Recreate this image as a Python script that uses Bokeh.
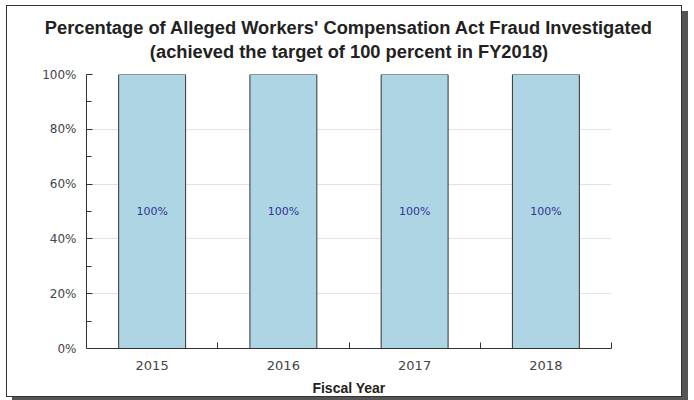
from bokeh.plotting import figure
from bokeh.models import (Range1d, FixedTicker, PrintfTickFormatter, Title,
                          ColumnDataSource)
from bokeh.embed import file_html
from bokeh.resources import INLINE

years = ["2015", "2016", "2017", "2018"]
values = [100, 100, 100, 100]
bar_labels = ["100%", "100%", "100%", "100%"]
y_ticks = [0, 20, 40, 60, 80, 100]
title_line1 = "Percentage of Alleged Workers' Compensation Act Fraud Investigated"
title_line2 = "(achieved the target of 100 percent in FY2018)"
x_label = "Fiscal Year"

pos = [i + 0.5 for i in range(len(years))]
src = ColumnDataSource(dict(x=pos, top=values, label=bar_labels,
                            mid=[v / 2 for v in values]))

p = figure(width=676, height=392, output_backend="svg", toolbar_location=None,
           x_range=Range1d(0, len(years)), y_range=Range1d(0, 100),
           min_border_left=79, min_border_right=72, min_border_top=68,
           min_border_bottom=50)
p.styles = {"border": "1px solid #333", "box-shadow": "6px 6px 0 #555",
            "margin-left": "6px", "margin-top": "5px"}
p.outline_line_color = None
p.background_fill_color = "white"
p.border_fill_color = "white"

p.vbar(x="x", top="top", bottom=0, width=0.51, source=src,
       fill_color="#ADD5E3", line_color="#333", line_width=1)
p.text(x="x", y="mid", text="label", source=src, text_align="center",
       text_baseline="middle", text_font_size="11px", text_color="#333399",
       text_font={"value": "DejaVu Sans"})

# x axis
p.xaxis.ticker = FixedTicker(ticks=pos, minor_ticks=list(range(1, len(years) + 1)))
p.xaxis.major_label_overrides = {pp: y for pp, y in zip(pos, years)}
p.xaxis.major_tick_line_color = None
p.xaxis.minor_tick_in = 6
p.xaxis.minor_tick_out = 0
p.xaxis.minor_tick_line_color = "#333"
p.xaxis.axis_line_color = "#333"
p.xaxis.major_label_text_font = "DejaVu Sans"
p.xaxis.major_label_text_font_size = "13px"
p.xaxis.major_label_text_color = "#444"
p.xaxis.major_label_standoff = 6
p.xaxis.axis_label = x_label
p.xaxis.axis_label_text_font = "Liberation Sans"
p.xaxis.axis_label_text_font_style = "bold"
p.xaxis.axis_label_text_font_size = "14px"
p.xaxis.axis_label_text_color = "#222"
p.xaxis.axis_label_standoff = 7
p.xgrid.grid_line_color = None

# y axis
p.yaxis.ticker = FixedTicker(ticks=y_ticks, minor_ticks=[10, 30, 50, 70, 90])
p.yaxis.formatter = PrintfTickFormatter(format="%d%%")
p.yaxis.major_tick_in = 6
p.yaxis.major_tick_out = 0
p.yaxis.minor_tick_in = 5
p.yaxis.minor_tick_out = 0
p.yaxis.major_tick_line_color = "#333"
p.yaxis.minor_tick_line_color = "#333"
p.yaxis.axis_line_color = "#333"
p.yaxis.major_label_text_font = "DejaVu Sans"
p.yaxis.major_label_text_font_size = "12px"
p.yaxis.major_label_text_color = "#444"
p.yaxis.major_label_standoff = 10
p.ygrid.grid_line_color = "#e2e2e2"
p.ygrid.ticker = FixedTicker(ticks=y_ticks)

# titles: first added sits closest to the plot area
p.add_layout(Title(text=" ", text_font_size="1px", standoff=10), "above")
p.add_layout(Title(text=title_line2, align="center", text_font="Liberation Sans",
                   text_font_size="18.3px", text_font_style="bold",
                   text_color="#222", standoff=0), "above")
p.add_layout(Title(text=title_line1, align="center", text_font="Liberation Sans",
                   text_font_size="18.3px", text_font_style="bold",
                   text_color="#222", standoff=2), "above")

open("out.html", "w").write(file_html(p, INLINE))
